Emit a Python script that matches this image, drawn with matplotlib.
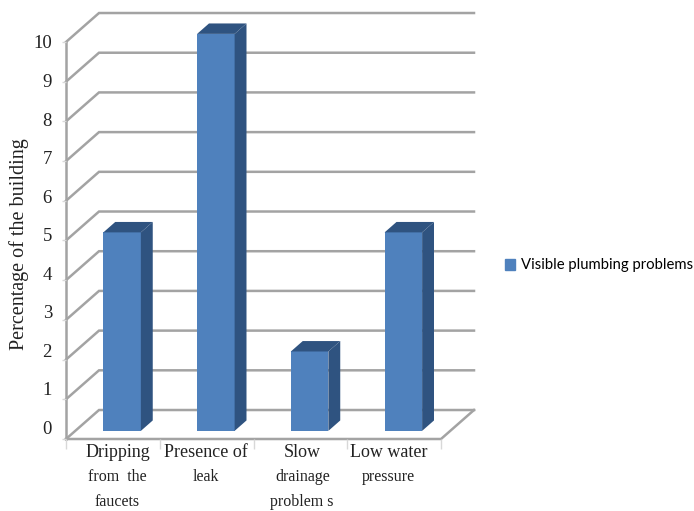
import matplotlib
matplotlib.use("Agg")
import matplotlib.pyplot as plt
from matplotlib.patches import Patch
from matplotlib.transforms import ScaledTranslation

categories = [
    ["Dripping", "from  the", "faucets"],
    ["Presence of", "leak"],
    ["Slow", "drainage", "problem s"],
    ["Low water", "pressure"],
]
values = [5, 10, 2, 5]
y_ticks = [0, 1, 2, 3, 4, 5, 6, 7, 8, 9, 10]
series_name = "Visible plumbing problems"

FRONT = "#4f81bd"
DARK = "#2f5380"
GRID = "#a3a3a3"
TEXT = "#222222"
SERIF = "Liberation Serif"

# depth of the fake 3d box, in data units
DX = 0.352
DY = 0.73
BAR_W = 0.40
BAR_START = 0.28
BAR_DEPTH = 0.36

fig = plt.figure(figsize=(6.94, 5.11), dpi=100)
ax = fig.add_axes([66 / 694, 72 / 511, 375 / 694, 397 / 511])
ax.set_xlim(-0.5, 3.5)
ax.set_ylim(0, 10)
for s in ax.spines.values():
    s.set_visible(False)
ax.patch.set_visible(False)

# walls and floor
for v in y_ticks:
    ax.plot([-0.5, -0.5 + DX, 3.5 + DX], [v, v + DY, v + DY],
            color=GRID, lw=1.8, clip_on=False, zorder=1, solid_joinstyle="miter")
ax.plot([-0.5, -0.5], [0, 10], color=GRID, lw=1.8, clip_on=False, zorder=1)
ax.plot([-0.5, 3.5, 3.5 + DX], [0, 0, DY], color=GRID, lw=1.8, clip_on=False, zorder=1)

# bars
for i, v in enumerate(values):
    x0 = i - BAR_W / 2 + BAR_START * DX
    x1 = x0 + BAR_W
    y0 = BAR_START * DY
    dx = BAR_DEPTH * DX
    dy = BAR_DEPTH * DY
    ax.fill([x0, x1, x1, x0], [y0, y0, y0 + v, y0 + v], color=FRONT, lw=0, clip_on=False, zorder=3)
    ax.fill([x1, x1 + dx, x1 + dx, x1], [y0, y0 + dy, y0 + v + dy, y0 + v],
            color=DARK, lw=0, clip_on=False, zorder=3)
    ax.fill([x0, x1, x1 + dx, x0 + dx], [y0 + v, y0 + v, y0 + v + dy, y0 + v + dy],
            color=DARK, lw=0, clip_on=False, zorder=3)

# value labels drift up the axis in the original, so they are placed by hand
ax.set_yticks(y_ticks)
ax.set_yticklabels([])
ax.tick_params(axis="y", length=3, width=1, color="#d8d8d8")
label_offset = ax.transData + ScaledTranslation(-14 / 100, -2 / 100, fig.dpi_scale_trans)
for v in y_ticks:
    ax.text(-0.5, v + 0.03 * (10 - v), str(v), family=SERIF, fontsize=13.5, color=TEXT,
            ha="right", va="center", transform=label_offset)

# category boundaries carry the ticks, labels sit under the centres
ax.set_xticks([-0.5, 0.5, 1.5, 2.5, 3.5])
ax.set_xticklabels([])
ax.tick_params(axis="x", length=7, width=1, color="#d8d8d8")
label_shift = [0.05, -0.01, 0.02, -0.06]
for i, lines in enumerate(categories):
    for n, line in enumerate(lines):
        ax.annotate(line, xy=(i + label_shift[i], 0), xycoords=("data", "axes fraction"),
                    xytext=(0, -(9.4 + 18 * n)), textcoords="offset points",
                    family=SERIF, fontsize=13 if n == 0 else 11.5, color=TEXT,
                    ha="center", va="center")

ax.set_ylabel("Percentage of the building", family=SERIF, fontsize=14.5, color=TEXT)
ax.yaxis.set_label_coords(-0.099, 0.49)

fig.legend(handles=[Patch(color=FRONT, label=series_name)], loc="center left",
           bbox_to_anchor=(505 / 694, 1 - 265.5 / 511), frameon=False,
           prop={"family": "Lato", "size": 10.7}, handlelength=0.65, handleheight=0.75,
           handletextpad=0.4, borderpad=0, borderaxespad=0)

fig.savefig("out.png", dpi=100)
